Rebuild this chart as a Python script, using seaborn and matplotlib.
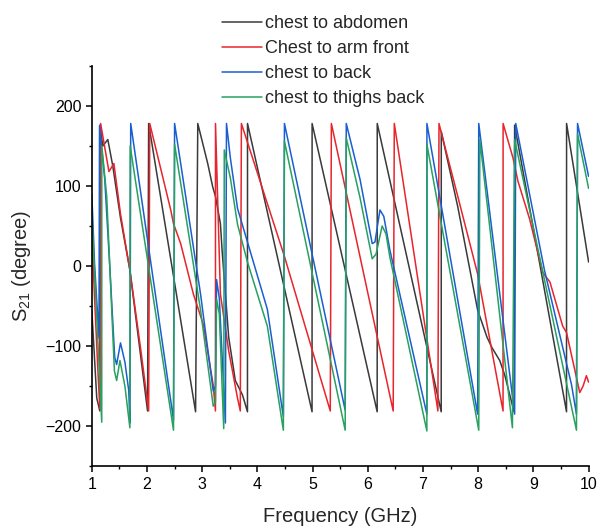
import matplotlib
matplotlib.use("Agg")
import matplotlib.pyplot as plt
import seaborn as sns
import pandas as pd
from matplotlib.ticker import MultipleLocator

# ---- data (frequency in GHz, phase in degrees) ----
abdomen_f = [1.00, 1.09, 1.145, 1.146, 1.20, 1.29, 1.38, 1.52, 1.69, 2.01, 2.03, 2.88, 2.92,
             3.10, 3.19, 3.24, 3.33, 3.36, 3.48, 3.60, 3.73, 3.82, 3.821, 4.99, 4.991, 6.17,
             6.171, 7.33, 7.331, 7.63, 7.99, 8.16, 8.25, 8.39, 8.48, 8.65, 8.66, 9.60, 9.601, 10.0]
abdomen_p = [-55, -165, -181, 176, 150, 158, 125, 60, -5, -181, 178, -182, 178,
             128, 99, 87, 53, 20, -89, -143, -161, -182, 178, -182, 178, -182,
             178, -182, 168, 74, -55, -89, -102, -118, -136, -182, 176, -182, 178, 5]

arm_f = [1.00, 1.05, 1.11, 1.145, 1.16, 1.31, 1.40, 1.52, 1.69, 1.89, 2.03, 2.05, 2.43, 2.48,
         2.61, 2.84, 3.02, 3.20, 3.24, 3.241, 3.28, 3.33, 3.48, 3.64, 3.69, 3.71, 4.49, 5.32,
         5.34, 6.46, 6.48, 7.13, 7.27, 7.29, 7.33, 7.63, 7.99, 8.45, 8.451, 8.63, 8.72, 8.93,
         9.17, 9.30, 9.53, 9.60, 9.84, 9.90, 9.96, 10.0]
arm_p = [40, -40, -130, -178, 178, 118, 128, 65, -5, -106, -181, 178, 70, 53,
         28, -35, -73, -149, -181, 178, 84, -35, -106, -165, -181, 178, 12, -181,
         178, -181, 178, -118, -181, 178, 167, 87, -10, -181, 178, 135, 106, 59,
         -8, -20, -75, -83, -158, -150, -137, -145]

back_f = [1.00, 1.05, 1.13, 1.14, 1.235, 1.325, 1.415, 1.45, 1.52, 1.60, 1.67, 1.69, 1.705,
          2.48, 2.50, 2.97, 3.20, 3.24, 3.26, 3.31, 3.42, 3.44, 3.51, 3.64, 3.82, 4.18, 4.47,
          4.49, 5.59, 5.61, 5.86, 6.08, 6.13, 6.22, 6.29, 6.40, 7.07, 7.071, 7.99, 8.01, 8.66,
          8.68, 9.20, 9.69, 9.78, 9.80, 10.0]
back_p = [90, 3, -90, 175, 108, 0, -114, -123, -96, -120, -156, -196, 178,
          -192, 178, -35, -156, -150, -17, -40, -196, 178, 135, 72, 30, -54, -188,
          178, -180, 178, 108, 28, 30, 70, 62, 20, -185, 178, -185, 178, -185,
          178, -5, -148, -185, 178, 112]

thighs_f = [1.00, 1.18, 1.181, 1.27, 1.41, 1.45, 1.51, 1.60, 1.69, 1.695, 2.48, 2.50, 2.97,
            3.20, 3.24, 3.26, 3.31, 3.39, 3.40, 3.51, 3.64, 3.82, 4.18, 4.47, 4.49, 5.59,
            5.61, 5.86, 6.08, 6.15, 6.26, 6.33, 6.40, 7.07, 7.071, 8.01, 8.03, 8.62, 8.66,
            9.78, 9.80, 10.0]
thighs_p = [65, -195, 150, 87, -131, -143, -118, -150, -202, 150, -205, 152, -55,
            -175, -170, -41, -60, -203, 145, 110, 52, 5, -75, -205, 156, -205,
            160, 85, 9, 15, 50, 40, 11, -206, 152, -205, 158, -202, 158,
            -205, 165, 97]

labels = ["chest to abdomen", "Chest to arm front", "chest to back", "chest to thighs back"]
colors = ["#3a3a3a", "#e8242c", "#1a5fd0", "#27a060"]

frames = []
for name, f, p in zip(labels, [abdomen_f, arm_f, back_f, thighs_f],
                      [abdomen_p, arm_p, back_p, thighs_p]):
    frames.append(pd.DataFrame({"Frequency": f, "Phase": p, "Series": name}))
df = pd.concat(frames, ignore_index=True)

sns.set_style("ticks")
plt.rcParams["font.family"] = ["Liberation Sans", "DejaVu Sans"]
plt.rcParams["mathtext.default"] = "regular"

fig = plt.figure(figsize=(6.0, 5.31), dpi=100)
ax = fig.add_axes([0.153, 0.122, 0.828, 0.754])

sns.lineplot(data=df, x="Frequency", y="Phase", hue="Series", hue_order=labels,
             palette=colors, sort=False, estimator=None, linewidth=1.1, ax=ax,
             legend=True)

ax.set_xlim(1, 10)
ax.set_ylim(-250, 250)
ax.xaxis.set_major_locator(MultipleLocator(1))
ax.xaxis.set_minor_locator(MultipleLocator(0.5))
ax.yaxis.set_minor_locator(MultipleLocator(50))
ax.set_yticks([-200, -100, 0, 100, 200])
ax.tick_params(axis="both", which="major", direction="out", length=4, width=1.1,
               labelsize=11.5, color="black", labelcolor="black", pad=3.5)
ax.tick_params(axis="both", which="minor", direction="out", length=2.5, width=1.0,
               color="black")
for s in ["top", "right"]:
    ax.spines[s].set_visible(False)
for s in ["left", "bottom"]:
    ax.spines[s].set_linewidth(1.2)
    ax.spines[s].set_color("black")

ax.set_xlabel("Frequency (GHz)", fontsize=14.5, labelpad=11)
ax.set_ylabel("S$_{21}$ (degree)", fontsize=14.5, labelpad=9)

handles, labs = ax.get_legend_handles_labels()
ax.get_legend().remove()
fig.legend(handles, labs, loc="upper left", bbox_to_anchor=(0.37, 0.971),
           frameon=False, fontsize=13, handlelength=2.2, handletextpad=0.2,
           labelspacing=0.44, borderpad=0, borderaxespad=0)

fig.savefig("out.png", dpi=100)
